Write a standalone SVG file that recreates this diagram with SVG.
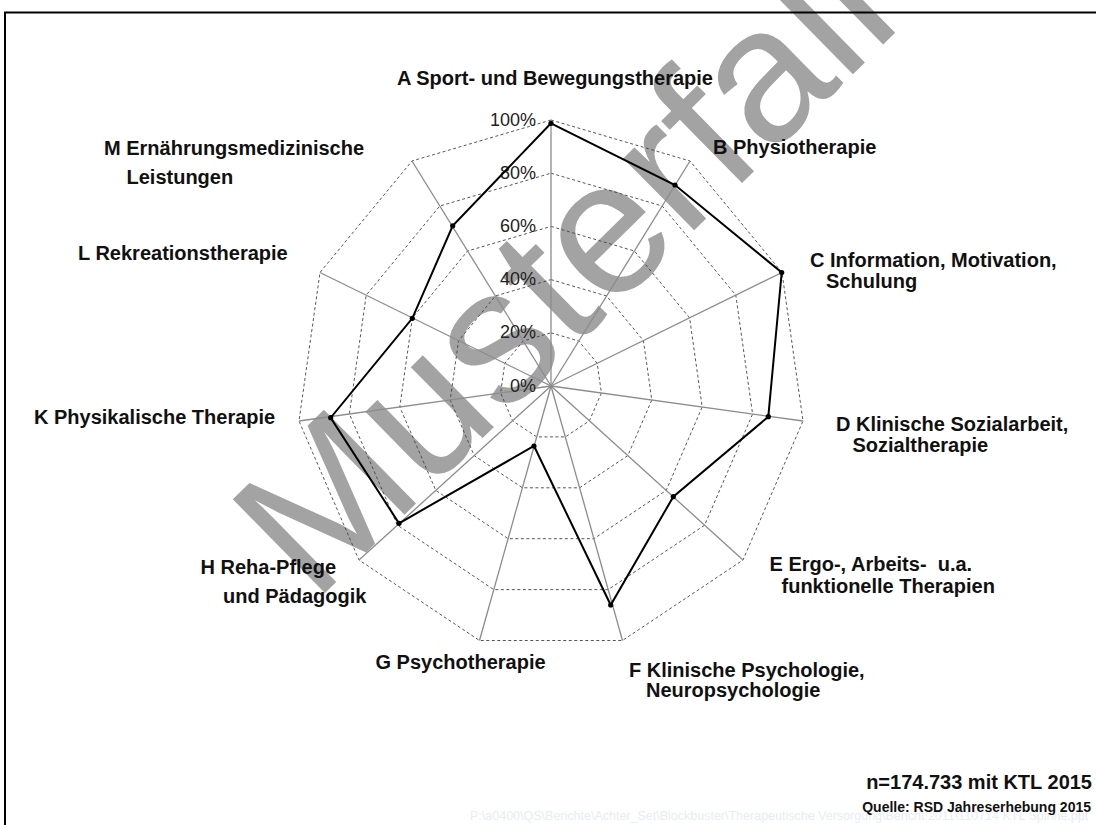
<svg xmlns="http://www.w3.org/2000/svg" width="1096" height="825" viewBox="0 0 1096 825">
<style>
.lbl{font-family:"Liberation Sans",Arial,sans-serif;font-weight:bold;font-size:20px;fill:#111}
.pct{font-family:"Liberation Sans",Arial,sans-serif;font-size:18px;fill:#222;text-anchor:end}
.ring{fill:none;stroke:#444;stroke-width:0.9;stroke-dasharray:3 2.5}
.axis{stroke:#8c8c8c;stroke-width:1.3}
.dot{fill:#000}
</style>
<rect width="1096" height="825" fill="#fff"/>
<g id="watermark">
<text x="0" y="0" transform="translate(313.7,604) rotate(-44.5)" font-family="Liberation Sans, Arial, sans-serif" font-size="191" fill="#a3a3a3">Musterfall</text>
</g>
<path d="M5,825 V12.5 H1096" fill="none" stroke="#000" stroke-width="2"/>
<g id="grid">
<polygon class="ring" points="551,120 690,161 782,272.5 803,421 743,560 622.5,640.5 479.5,640.5 359,560 299,421 320,272.5 412,161"/>
<polygon class="ring" points="551,173.2 662.2,206 735.8,295.2 752.6,414 704.6,525.2 608.2,589.6 493.8,589.6 397.4,525.2 349.4,414 366.2,295.2 439.8,206"/>
<polygon class="ring" points="551,226.4 634.4,251 689.6,317.9 702.2,407 666.2,490.4 593.9,538.7 508.1,538.7 435.8,490.4 399.8,407 412.4,317.9 467.6,251"/>
<polygon class="ring" points="551,279.6 606.6,296 643.4,340.6 651.8,400 627.8,455.6 579.6,487.8 522.4,487.8 474.2,455.6 450.2,400 458.6,340.6 495.4,296"/>
<polygon class="ring" points="551,332.8 578.8,341 597.2,363.3 601.4,393 589.4,420.8 565.3,436.9 536.7,436.9 512.6,420.8 500.6,393 504.8,363.3 523.2,341"/>
</g>
<g id="axes">
<line class="axis" x1="551" y1="386" x2="551" y2="120"/>
<line class="axis" x1="551" y1="386" x2="690" y2="161"/>
<line class="axis" x1="551" y1="386" x2="782" y2="272.5"/>
<line class="axis" x1="551" y1="386" x2="803" y2="421"/>
<line class="axis" x1="551" y1="386" x2="743" y2="560"/>
<line class="axis" x1="551" y1="386" x2="622.5" y2="640.5"/>
<line class="axis" x1="551" y1="386" x2="479.5" y2="640.5"/>
<line class="axis" x1="551" y1="386" x2="359" y2="560"/>
<line class="axis" x1="551" y1="386" x2="299" y2="421"/>
<line class="axis" x1="551" y1="386" x2="320" y2="272.5"/>
<line class="axis" x1="551" y1="386" x2="412" y2="161"/>
</g>
<g id="scale">
<text class="pct" x="536" y="125.5">100%</text>
<text class="pct" x="536" y="178.5">80%</text>
<text class="pct" x="536" y="231.5">60%</text>
<text class="pct" x="536" y="284.5">40%</text>
<text class="pct" x="536" y="338">20%</text>
<text class="pct" x="536" y="391.5">0%</text>
</g>
<g id="connectors">
<polygon points="551,123.3 675,185 781.7,272.5 768.3,416.7 673.3,496.7 610.7,605 534,446 399,523.3 330.7,417.7 412.3,318.3 452.7,225.8" fill="none" stroke="#000" stroke-width="2" stroke-linejoin="miter"/>
<circle class="dot" cx="551" cy="123.3" r="2.6"/>
<circle class="dot" cx="675" cy="185" r="2.6"/>
<circle class="dot" cx="781.7" cy="272.5" r="2.6"/>
<circle class="dot" cx="768.3" cy="416.7" r="2.6"/>
<circle class="dot" cx="673.3" cy="496.7" r="2.6"/>
<circle class="dot" cx="610.7" cy="605" r="2.6"/>
<circle class="dot" cx="534" cy="446" r="2.6"/>
<circle class="dot" cx="399" cy="523.3" r="2.6"/>
<circle class="dot" cx="330.7" cy="417.7" r="2.6"/>
<circle class="dot" cx="412.3" cy="318.3" r="2.6"/>
<circle class="dot" cx="452.7" cy="225.8" r="2.6"/>
</g>
<g id="node-A"><text class="lbl" x="397" y="85">A Sport- und Bewegungstherapie</text></g>
<g id="node-B"><text class="lbl" x="713" y="154">B Physiotherapie</text></g>
<g id="node-C"><text class="lbl" x="810" y="266.5">C Information, Motivation,</text><text class="lbl" x="826" y="287.5">Schulung</text></g>
<g id="node-D"><text class="lbl" x="836" y="431">D Klinische Sozialarbeit,</text><text class="lbl" x="852.5" y="451.5">Sozialtherapie</text></g>
<g id="node-E"><text class="lbl" x="769.5" y="571" xml:space="preserve">E Ergo-, Arbeits-  u.a.</text><text class="lbl" x="781.5" y="592.5">funktionelle Therapien</text></g>
<g id="node-F"><text class="lbl" x="629" y="676.5">F Klinische Psychologie,</text><text class="lbl" x="646" y="696.5">Neuropsychologie</text></g>
<g id="node-G"><text class="lbl" x="375.5" y="668.5">G Psychotherapie</text></g>
<g id="node-H"><text class="lbl" x="200.5" y="574">H Reha-Pflege</text><text class="lbl" x="223" y="602.5">und Pädagogik</text></g>
<g id="node-K"><text class="lbl" x="34" y="424">K Physikalische Therapie</text></g>
<g id="node-L"><text class="lbl" x="78" y="259.5">L Rekreationstherapie</text></g>
<g id="node-M"><text class="lbl" x="104" y="154.5">M Ernährungsmedizinische</text><text class="lbl" x="126.5" y="183.5">Leistungen</text></g>
<g id="footer">
<text x="470" y="820" font-family="Liberation Sans, Arial, sans-serif" font-size="12.5" fill="#e8ecf6">P:\a0400\QS\Berichte\Achter_Set\Blockbuster\Therapeutische Versorgung\Bericht 2011\110714 KTL Spinne.ppt</text>
<text class="lbl" x="1092" y="788.5" text-anchor="end">n=174.733 mit KTL 2015</text>
<text class="lbl" x="1091" y="811.5" text-anchor="end" style="font-size:14px">Quelle: RSD Jahreserhebung 2015</text>
</g>
</svg>
